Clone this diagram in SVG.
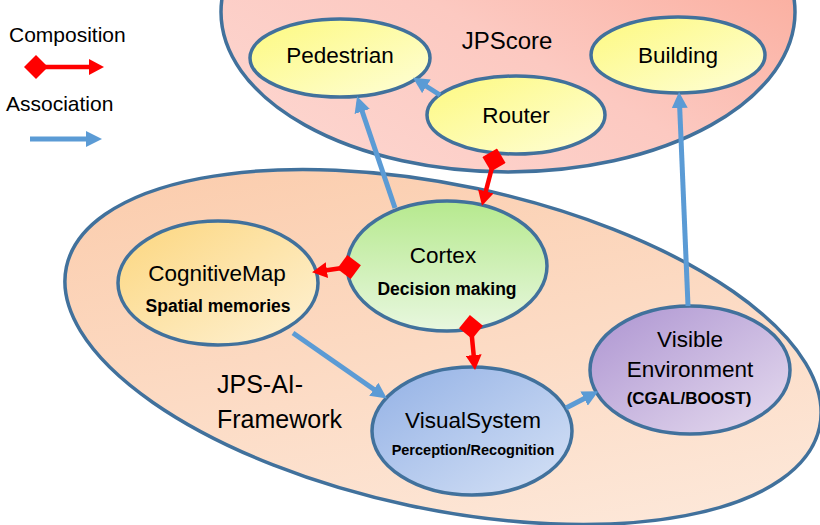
<svg xmlns="http://www.w3.org/2000/svg" width="820" height="525" viewBox="0 0 820 525">
<defs>
<style>
text{font-family:"Liberation Sans",Arial,sans-serif;fill:#000;}
.lbl{font-size:22.5px;text-anchor:middle;}
.sub{font-weight:bold;text-anchor:middle;}
.leg{font-size:21px;}
.frame{stroke:#41719c;stroke-width:3.5;}
.node{stroke:#41719c;stroke-width:3.5;}
.assoc{stroke:#5b9bd5;stroke-width:5;fill:none;marker-end:url(#aHead);}
.comp{stroke:#ff0000;stroke-width:4.5;fill:none;marker-start:url(#dia);marker-end:url(#rHead);}
</style>
<marker id="aHead" markerUnits="userSpaceOnUse" viewBox="0 0 16 16" refX="10" refY="8" markerWidth="16" markerHeight="16" orient="auto"><path d="M0,0 L16,8 L0,16 z" fill="#5b9bd5"/></marker>
<marker id="rHead" markerUnits="userSpaceOnUse" viewBox="0 0 15 16" refX="9" refY="8" markerWidth="15" markerHeight="16" orient="auto"><path d="M0,0 L15,8 L0,16 z" fill="#ff0000"/></marker>
<marker id="dia" markerUnits="userSpaceOnUse" viewBox="0 0 24 24" refX="12" refY="12" markerWidth="24" markerHeight="24" orient="auto"><path d="M0,12 L12,0 L24,12 L12,24 z" fill="#ff0000"/></marker>
<linearGradient id="gJP" x1="0" y1="1" x2="1" y2="0"><stop offset="0" stop-color="#fdd8d2"/><stop offset="0.45" stop-color="#fcc9c1"/><stop offset="1" stop-color="#fa9f8c"/></linearGradient>
<linearGradient id="gFW" x1="0" y1="0" x2="1" y2="1"><stop offset="0" stop-color="#fbc9a7"/><stop offset="1" stop-color="#fdece0"/></linearGradient>
<linearGradient id="gY" x1="0" y1="0" x2="1" y2="1"><stop offset="0" stop-color="#fdf97f"/><stop offset="1" stop-color="#fefed8"/></linearGradient>
<linearGradient id="gCM" x1="0" y1="0" x2="1" y2="1"><stop offset="0" stop-color="#fcd67e"/><stop offset="1" stop-color="#fef2d6"/></linearGradient>
<linearGradient id="gCX" x1="0" y1="0" x2="0" y2="1"><stop offset="0" stop-color="#b6e98e"/><stop offset="1" stop-color="#e8f7df"/></linearGradient>
<linearGradient id="gVS" x1="0" y1="0" x2="1" y2="1"><stop offset="0" stop-color="#93b1e5"/><stop offset="1" stop-color="#d6e2f6"/></linearGradient>
<linearGradient id="gVE" x1="0" y1="0" x2="1" y2="1"><stop offset="0" stop-color="#ad94d1"/><stop offset="1" stop-color="#e6dcef"/></linearGradient>
</defs>
<rect width="820" height="525" fill="#ffffff"/>

<g id="legend">
<text class="leg" x="9" y="42">Composition</text>
<line x1="36" y1="67" x2="98" y2="67" stroke="#ff0000" stroke-width="4.5" marker-start="url(#dia)" marker-end="url(#rHead)"/>
<text class="leg" x="6" y="111">Association</text>
<line x1="30" y1="139" x2="96" y2="139" stroke="#5b9bd5" stroke-width="5" marker-end="url(#aHead)"/>
</g>

<g id="jpscore">
<ellipse class="frame" cx="508" cy="12" rx="287" ry="160" fill="url(#gJP)"/>
<text x="507" y="49" style="font-size:24px;text-anchor:middle">JPScore</text>
</g>

<g id="framework">
<ellipse class="frame" cx="443" cy="347" rx="385" ry="162" transform="rotate(12 443 347)" fill="url(#gFW)"/>
<text x="217" y="393" style="font-size:25px">JPS-AI-</text>
<text x="217" y="428" style="font-size:25px">Framework</text>
</g>

<g id="pedestrian">
<ellipse class="node" cx="340" cy="58" rx="90" ry="39" fill="url(#gY)"/>
<text class="lbl" x="340" y="63">Pedestrian</text>
</g>
<g id="building">
<ellipse class="node" cx="678" cy="55" rx="87" ry="38" fill="url(#gY)"/>
<text class="lbl" x="678" y="63">Building</text>
</g>
<g id="router">
<ellipse class="node" cx="516" cy="115" rx="89" ry="39" fill="url(#gY)"/>
<text class="lbl" x="516" y="123">Router</text>
</g>
<g id="cognitivemap">
<ellipse class="node" cx="218" cy="283" rx="100" ry="62" fill="url(#gCM)"/>
<text class="lbl" x="217" y="281">CognitiveMap</text>
<text class="sub" x="218" y="312" style="font-size:17.5px">Spatial memories</text>
</g>
<g id="cortex">
<ellipse class="node" cx="447" cy="266" rx="100" ry="65" fill="url(#gCX)"/>
<text class="lbl" x="443" y="263">Cortex</text>
<text class="sub" x="447" y="295" style="font-size:17.5px">Decision making</text>
</g>
<g id="visualsystem">
<ellipse class="node" cx="472" cy="431" rx="100" ry="64" fill="url(#gVS)"/>
<text class="lbl" x="473" y="428">VisualSystem</text>
<text class="sub" x="473" y="455" style="font-size:14.5px">Perception/Recognition</text>
</g>
<g id="visibleenvironment">
<ellipse class="node" cx="690" cy="370" rx="100" ry="64" fill="url(#gVE)"/>
<text class="lbl" x="690" y="347">Visible</text>
<text class="lbl" x="690" y="377">Environment</text>
<text class="sub" x="689" y="404" style="font-size:17px">(CGAL/BOOST)</text>
</g>

<g id="connectors">
<line class="assoc" x1="440" y1="95" x2="418" y2="81"/>
<line class="assoc" x1="395" y1="208" x2="359" y2="102"/>
<line class="assoc" x1="688" y1="306" x2="679.3" y2="98"/>
<line class="assoc" x1="293" y1="333" x2="382" y2="395"/>
<line class="assoc" x1="566" y1="408" x2="593" y2="394"/>
<line class="comp" x1="494" y1="160" x2="483.5" y2="200"/>
<line class="comp" x1="349" y1="267" x2="318" y2="271.5"/>
<line class="comp" x1="471" y1="327" x2="474.5" y2="364"/>
</g>
</svg>
